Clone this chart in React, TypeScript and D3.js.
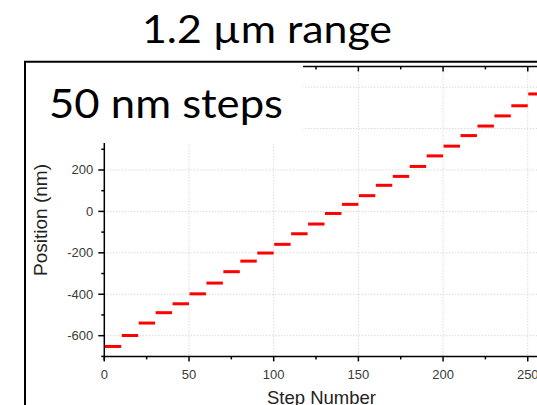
import React from "react";
import * as d3 from "d3";

const stepStarts = [0, 10, 20, 30, 40, 50, 60, 70, 80, 90, 100, 110, 120, 130, 140, 150, 160, 170, 180, 190, 200, 210, 220, 230, 240, 250];
const positions = [-652, -599, -539, -489, -446, -398, -346, -291, -240, -201, -159, -108, -61, -10, 34, 76, 126, 169, 217, 268, 315, 366, 412, 461, 510, 567];
const xMajorTicks = [0, 50, 100, 150, 200, 250];
const xMinorTicks = [25, 75, 125, 175, 225];
const yMajorTicks = [-600, -400, -200, 0, 200, 400, 600];
const yMinorTicks = [-700, -500, -300, -100, 100, 300, 500, 700];
const stepLength = 10;

const W = 537;
const H = 405;
const BOX_BOTTOM = 143;

export default function App() {
  const x = d3.scaleLinear().domain([0, 260]).range([104.3, 544.7]);
  const y = d3.scaleLinear().domain([-700, 700]).range([356.4, 66.4]);
  const axisFont = "'Liberation Sans', Arial, sans-serif";
  const bigFont = "Lato, 'Open Sans', sans-serif";
  const x0 = x(0);
  const yBot = y(-700);
  const yTop = y(700);
  const visibleY = (t: number) => y(t) > BOX_BOTTOM;
  return (
    <div style={{ position: "absolute", left: 0, top: 0 }}>
      <svg width={W} height={H} style={{ display: "block", background: "#fff" }}>
        <rect x={0} y={0} width={W} height={H} fill="#fff" />
        {/* grid */}
        {xMajorTicks.filter((t) => t > 0).map((t) => (
          <line key={"gx" + t} x1={x(t)} x2={x(t)} y1={yTop} y2={yBot} stroke="#c8c8c8" strokeWidth={1} strokeDasharray="1,2" />
        ))}
        {yMajorTicks.map((t) => (
          <line key={"gy" + t} x1={x0} x2={W} y1={y(t)} y2={y(t)} stroke="#c8c8c8" strokeWidth={1} strokeDasharray="1,2" />
        ))}
        {/* data */}
        {stepStarts.map((s, i) => (
          <line key={"d" + i} x1={x(s + 0.3)} x2={x(s + stepLength)} y1={y(positions[i])} y2={y(positions[i])} stroke="#ff0000" strokeWidth={3} />
        ))}
        {/* axes lines */}
        <line x1={x0} x2={W} y1={yBot} y2={yBot} stroke="#000" strokeWidth={1.5} />
        <line x1={x0} x2={x0} y1={BOX_BOTTOM} y2={yBot + 4} stroke="#000" strokeWidth={1.5} />
        <line x1={x0} x2={W} y1={yTop} y2={yTop} stroke="#000" strokeWidth={1.5} />
        {/* x ticks bottom */}
        {xMajorTicks.map((t) => (
          <g key={"xt" + t}>
            <line x1={x(t)} x2={x(t)} y1={yBot} y2={yBot + 5} stroke="#000" strokeWidth={1.5} />
            <text x={x(t)} y={yBot + 23} textAnchor="middle" fontFamily={axisFont} fontSize={13} fill="#3a3a3a">{t}</text>
          </g>
        ))}
        {xMinorTicks.map((t) => (
          <line key={"xm" + t} x1={x(t)} x2={x(t)} y1={yBot} y2={yBot + 3} stroke="#000" strokeWidth={1.5} />
        ))}
        {/* x ticks top */}
        {xMajorTicks.map((t) => (
          <line key={"xtt" + t} x1={x(t)} x2={x(t)} y1={yTop} y2={yTop + 5} stroke="#000" strokeWidth={1.5} />
        ))}
        {xMinorTicks.map((t) => (
          <line key={"xtm" + t} x1={x(t)} x2={x(t)} y1={yTop} y2={yTop + 3} stroke="#000" strokeWidth={1.5} />
        ))}
        {/* y ticks */}
        {yMajorTicks.filter(visibleY).map((t) => (
          <g key={"yt" + t}>
            <line x1={x0 - 6} x2={x0} y1={y(t)} y2={y(t)} stroke="#000" strokeWidth={1.5} />
            <text x={x0 - 11} y={y(t) + 4.5} textAnchor="end" fontFamily={axisFont} fontSize={13} fill="#3a3a3a">{t}</text>
          </g>
        ))}
        {yMinorTicks.filter(visibleY).map((t) => (
          <line key={"ym" + t} x1={x0 - 3} x2={x0} y1={y(t)} y2={y(t)} stroke="#000" strokeWidth={1.5} />
        ))}
        {/* axis titles */}
        <text x={321.5} y={404} textAnchor="middle" fontFamily={axisFont} fontSize={18.5} fill="#222">Step Number</text>
        <text transform={`translate(47, 220) rotate(-90)`} textAnchor="middle" fontFamily={axisFont} fontSize={19} fill="#222">Position (nm)</text>
        {/* overlay box */}
        <rect x={26} y={62.5} width={277} height={BOX_BOTTOM - 62.5} fill="#fff" />
        <line x1={25} x2={25} y1={61.7} y2={H} stroke="#000" strokeWidth={2} />
        <line x1={24} x2={W} y1={61.7} y2={61.7} stroke="#000" strokeWidth={2} />
        <text x={49} y={118.3} fontFamily={bigFont} fontSize={41} fill="#000" textLength={234} lengthAdjust="spacingAndGlyphs">50 nm steps</text>
        <text x={142} y={42.5} fontFamily={bigFont} fontSize={39} fill="#000" textLength={250} lengthAdjust="spacingAndGlyphs">1.2 µm range</text>
      </svg>
    </div>
  );
}
